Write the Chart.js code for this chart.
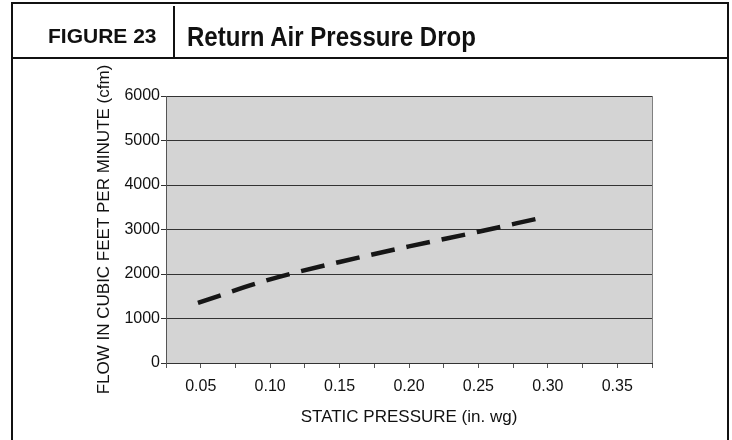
<!DOCTYPE html>
<html>
<head>
<meta charset="utf-8">
<title>Return Air Pressure Drop</title>
<script src="https://cdn.jsdelivr.net/npm/chart.js@4.4.1/dist/chart.umd.min.js"></script>
<style>
  body { margin: 0; background: #fff; font-family: "Liberation Sans", Arial, sans-serif; }
  #wrap { position: relative; width: 732px; height: 440px; overflow: hidden; }
  #chart { position: absolute; left: 0; top: 0; }
  .rule { position: absolute; background: #111; }
  .hdr { position: absolute; font-weight: bold; color: #111; white-space: nowrap; }
</style>
</head>
<body>
<div id="wrap">
  <canvas id="chart" width="732" height="440"></canvas>

  <!-- frame & header -->
  <div class="rule" style="left:11px; top:2px; width:718px; height:2px;"></div>
  <div class="rule" style="left:11px; top:2px; width:2px; height:438px;"></div>
  <div class="rule" style="left:727px; top:2px; width:2px; height:438px;"></div>
  <div class="rule" style="left:11px; top:57px; width:718px; height:2px;"></div>
  <div class="rule" style="left:173px; top:6px; width:2px; height:52px;"></div>
  <div class="hdr" style="left:48px; top:25px; font-size:21px; line-height:21px;">FIGURE 23</div>
  <div class="hdr" style="left:187px; top:24px; font-size:27px; line-height:27px; transform:scaleX(0.89); transform-origin:left top;">Return Air Pressure Drop</div>
</div>

<script>
// --------------------------
// Data
// --------------------------
const pressure = [0.048, 0.10, 0.15, 0.20, 0.25, 0.292]; // in. wg
const flow = [1350, 1880, 2270, 2620, 2950, 3240]; // cfm

const yTicks = [0, 1000, 2000, 3000, 4000, 5000, 6000];
const xLabels = ["0.05", "0.10", "0.15", "0.20", "0.25", "0.30", "0.35"];

const FONT = "'Liberation Sans', Arial, sans-serif";

// gray plot background + right edge line
const plotFrame = {
  id: "plotFrame",
  beforeDraw(chart) {
    const { ctx, chartArea: a } = chart;
    ctx.save();
    ctx.fillStyle = "#d4d4d4";
    ctx.fillRect(a.left, a.top, a.right - a.left, a.bottom - a.top);
    ctx.restore();
  },
  beforeDatasetsDraw(chart) {
    const { ctx, chartArea: a } = chart;
    ctx.save();
    ctx.strokeStyle = "#808080";
    ctx.lineWidth = 1;
    ctx.beginPath();
    ctx.moveTo(a.right + 0.5, a.top);
    ctx.lineTo(a.right + 0.5, a.bottom);
    ctx.stroke();
    ctx.restore();
  },
};

new Chart(document.getElementById("chart"), {
  type: "scatter",
  data: {
    datasets: [
      {
        data: pressure.map((p, i) => ({ x: p, y: flow[i] })),
        showLine: true,
        borderColor: "#161616",
        borderWidth: 4.5,
        borderDash: [24, 12],
        borderCapStyle: "butt",
        cubicInterpolationMode: "monotone",
        pointRadius: 0,
        pointHoverRadius: 0,
      },
    ],
  },
  options: {
    responsive: false,
    animation: false,
    devicePixelRatio: 1,
    layout: { padding: { left: 90, top: 96, right: 80, bottom: 8 } },
    plugins: { legend: { display: false }, tooltip: { enabled: false } },
    scales: {
      x: {
        type: "linear",
        min: 0.025,
        max: 0.375,
        afterFit: (s) => { s.height = 69; },
        ticks: {
          stepSize: 0.025,
          autoSkip: false,
          maxRotation: 0,
          padding: 9,
          color: "#111",
          font: { family: FONT, size: 16 },
          callback: (v) => {
            const m = Math.round(v * 1000);
            return m % 50 === 0 ? xLabels[m / 50 - 1] : "";
          },
        },
        grid: { drawOnChartArea: false, drawTicks: true, tickLength: 5, color: "#555" },
        border: { display: true, color: "#333", width: 1 },
        title: {
          display: true,
          text: "STATIC PRESSURE (in. wg)",
          color: "#111",
          font: { family: FONT, size: 17 },
          padding: { top: 4, bottom: 4 },
        },
      },
      y: {
        min: 0,
        max: 6000,
        afterFit: (s) => { s.width = 76; },
        afterBuildTicks: (s) => { s.ticks = yTicks.map((v) => ({ value: v })); },
        ticks: {
          padding: 1,
          color: "#111",
          font: { family: FONT, size: 16 },
          callback: (v) => String(v),
        },
        grid: { color: "#333", lineWidth: 1, tickLength: 5 },
        border: { display: true, color: "#555", width: 1 },
        title: {
          display: true,
          text: "FLOW IN CUBIC FEET PER MINUTE (cfm)",
          color: "#111",
          font: { family: FONT, size: 17 },
          padding: { top: 4, bottom: 4 },
        },
      },
    },
  },
  plugins: [plotFrame],
});
</script>
</body>
</html>
